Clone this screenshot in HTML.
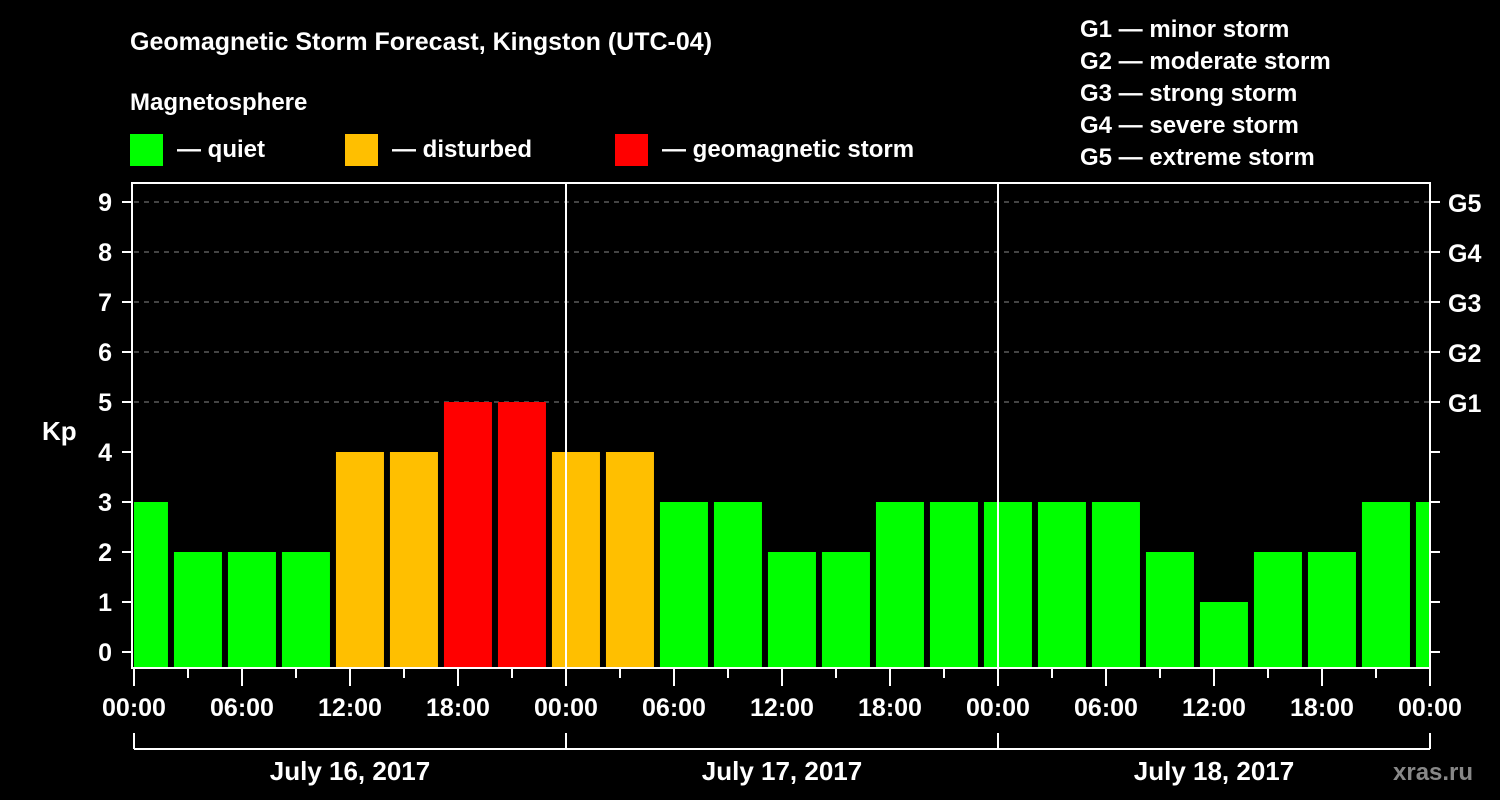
<!DOCTYPE html>
<html><head><meta charset="utf-8"><style>
body{margin:0;background:#000;}
svg{display:block;font-family:"Liberation Sans",Arial,sans-serif;font-weight:bold;}
</style></head><body>
<svg id="c" width="1500" height="800" viewBox="0 0 1500 800">
<rect width="1500" height="800" fill="#000"/>
<text x="130" y="50" fill="#fff" font-size="25">Geomagnetic Storm Forecast, Kingston (UTC-04)</text>
<text x="130" y="110" fill="#fff" font-size="24">Magnetosphere</text>
<g>
<rect x="130" y="134" width="33" height="32" fill="#00ff00"/>
<text x="177" y="157" fill="#fff" font-size="24">— quiet</text>
<rect x="345" y="134" width="33" height="32" fill="#ffbf00"/>
<text x="392" y="157" fill="#fff" font-size="24">— disturbed</text>
<rect x="615" y="134" width="33" height="32" fill="#ff0000"/>
<text x="662" y="157" fill="#fff" font-size="24">— geomagnetic storm</text>
</g>
<g fill="#fff" font-size="24">
<text x="1080" y="37">G1 — minor storm</text>
<text x="1080" y="69">G2 — moderate storm</text>
<text x="1080" y="101">G3 — strong storm</text>
<text x="1080" y="133">G4 — severe storm</text>
<text x="1080" y="165">G5 — extreme storm</text>
</g>
<text x="42" y="440" fill="#fff" font-size="26">Kp</text>
<text x="1393" y="780" fill="#888" font-size="24">xras.ru</text>
<defs><clipPath id="pc"><rect x="134" y="184" width="1295" height="484"/></clipPath></defs>
<g id="grid"></g>
<g id="bars" clip-path="url(#pc)"></g>
<g id="axes"></g>
</svg>
<script>
const kpValues=[3,2,2,2,4,4,5,5,4,4,3,3,2,2,3,3,3,3,3,2,1,2,2,3,3];
const yTicks=[0,1,2,3,4,5,6,7,8,9];
const gLabels=["G1","G2","G3","G4","G5"];
const gLevels=[5,6,7,8,9];
const xTickLabels=["00:00","06:00","12:00","18:00","00:00","06:00","12:00","18:00","00:00","06:00","12:00","18:00","00:00"];
const dayLabels=["July 16, 2017","July 17, 2017","July 18, 2017"];
const NS="http://www.w3.org/2000/svg";
const X=h=>134+18*h, Y=v=>652-50*v;
function mk(tag,a,parent,txt){const e=document.createElementNS(NS,tag);for(const k in a)e.setAttribute(k,a[k]);if(txt!==undefined)e.textContent=txt;document.getElementById(parent).appendChild(e);return e;}
const col=v=>v>=5?"#ff0000":v>=4?"#ffbf00":"#00ff00";
gLevels.forEach((v,i)=>{const l=mk('line',{x1:134,x2:1430,y1:Y(v),y2:Y(v),stroke:'#888','stroke-dasharray':'5,5','stroke-width':1},'grid');


const t=mk('text',{x:1448,y:Y(v)+10,fill:'#fff','font-size':25},'axes',gLabels[i]);

});
kpValues.forEach((v,i)=>{const r=mk('rect',{x:X(3*i-0.78),y:Y(v),width:48,height:668-Y(v),fill:col(v)},'bars');

});
[24,48].forEach(h=>{const l=mk('line',{x1:X(h),x2:X(h),y1:183,y2:668,stroke:'#fff','stroke-width':2},'axes');

});
const fr=mk('rect',{x:132,y:183,width:1298,height:485,fill:'none',stroke:'#fff','stroke-width':2},'axes');


yTicks.forEach(v=>{mk('line',{x1:122,x2:132,y1:Y(v),y2:Y(v),stroke:'#fff','stroke-width':2},'axes');
mk('line',{x1:1430,x2:1440,y1:Y(v),y2:Y(v),stroke:'#fff','stroke-width':2},'axes');
const t=mk('text',{x:112,y:Y(v)+9,fill:'#fff','font-size':25,'text-anchor':'end'},'axes',String(v));

});
for(let h=0;h<=72;h+=3){mk('line',{x1:X(h),x2:X(h),y1:669,y2:h%6==0?686:678,stroke:'#fff','stroke-width':2},'axes');}
xTickLabels.forEach((s,i)=>{const t=mk('text',{x:X(6*i),y:716,fill:'#fff','font-size':25,'text-anchor':'middle'},'axes',s);

});
mk('line',{x1:X(0),x2:X(72),y1:749,y2:749,stroke:'#fff','stroke-width':2},'axes');
for(let d=0;d<=3;d++)mk('line',{x1:X(24*d),x2:X(24*d),y1:733,y2:749,stroke:'#fff','stroke-width':2},'axes');
dayLabels.forEach((s,i)=>{const t=mk('text',{x:X(24*i+12),y:780,fill:'#fff','font-size':26,'text-anchor':'middle'},'axes',s);

});
</script>
</body></html>
